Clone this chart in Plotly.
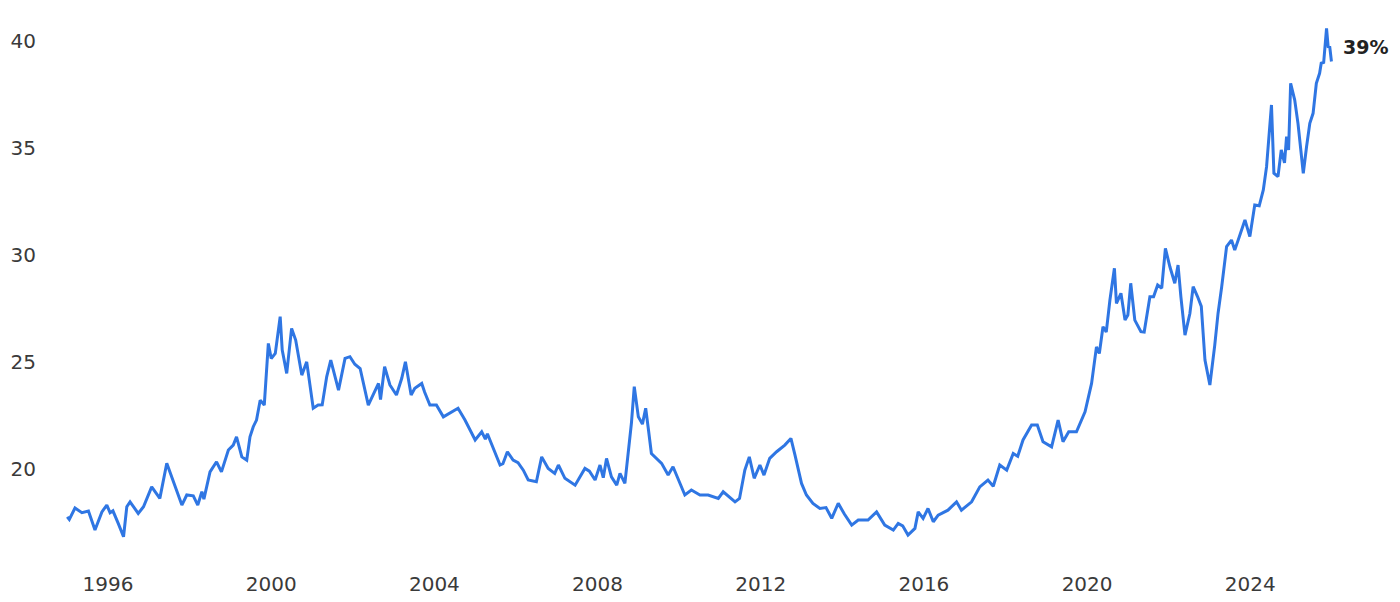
import plotly.graph_objects as go

# Series (decimal year, percent)
years = [
    1995.00, 1995.05, 1995.19, 1995.36, 1995.52, 1995.68, 1995.85, 1995.97,
    1996.05, 1996.12, 1996.25, 1996.38, 1996.46, 1996.54, 1996.74, 1996.87,
    1997.07, 1997.27, 1997.44, 1997.56, 1997.81, 1997.93, 1998.09, 1998.20,
    1998.30, 1998.35, 1998.50, 1998.66, 1998.78, 1998.95, 1999.07, 1999.15,
    1999.28, 1999.40, 1999.48, 1999.56, 1999.64, 1999.73, 1999.83, 1999.93,
    2000.00, 2000.10, 2000.22, 2000.27, 2000.38, 2000.50, 2000.60, 2000.75,
    2000.87, 2001.03, 2001.15, 2001.25, 2001.36, 2001.46, 2001.55, 2001.65,
    2001.81, 2001.93, 2002.05, 2002.18, 2002.38, 2002.54, 2002.63, 2002.68,
    2002.78, 2002.91, 2003.07, 2003.20, 2003.29, 2003.43, 2003.52, 2003.69,
    2003.76, 2003.89, 2004.05, 2004.22, 2004.42, 2004.58, 2004.75, 2005.00,
    2005.16, 2005.25, 2005.30, 2005.40, 2005.61, 2005.68, 2005.79, 2005.93,
    2006.05, 2006.18, 2006.30, 2006.50, 2006.63, 2006.79, 2006.95, 2007.04,
    2007.20, 2007.45, 2007.69, 2007.80, 2007.94, 2008.06, 2008.14, 2008.22,
    2008.34, 2008.47, 2008.55, 2008.67, 2008.83, 2008.90, 2009.00, 2009.10,
    2009.18, 2009.25, 2009.32, 2009.57, 2009.73, 2009.85, 2009.98, 2010.14,
    2010.30, 2010.51, 2010.71, 2010.96, 2011.08, 2011.37, 2011.48, 2011.61,
    2011.72, 2011.84, 2011.98, 2012.08, 2012.22, 2012.39, 2012.59, 2012.74,
    2012.84, 2013.00, 2013.12, 2013.28, 2013.45, 2013.60, 2013.74, 2013.90,
    2014.05, 2014.23, 2014.39, 2014.63, 2014.84, 2015.04, 2015.25, 2015.37,
    2015.48, 2015.61, 2015.78, 2015.86, 2015.98, 2016.10, 2016.23, 2016.35,
    2016.59, 2016.80, 2016.92, 2017.17, 2017.37, 2017.57, 2017.70, 2017.86,
    2018.03, 2018.19, 2018.30, 2018.43, 2018.64, 2018.78, 2018.92, 2019.13,
    2019.29, 2019.41, 2019.55, 2019.74, 2019.95, 2020.11, 2020.23, 2020.30,
    2020.39, 2020.47, 2020.56, 2020.67, 2020.72, 2020.83, 2020.93, 2021.00,
    2021.07, 2021.17, 2021.32, 2021.40, 2021.54, 2021.63, 2021.73, 2021.83,
    2021.92, 2022.03, 2022.15, 2022.23, 2022.30, 2022.40, 2022.52, 2022.60,
    2022.71, 2022.80, 2022.89, 2023.01, 2023.13, 2023.21, 2023.30, 2023.42,
    2023.54, 2023.62, 2023.74, 2023.87, 2023.99, 2024.11, 2024.22, 2024.32,
    2024.40, 2024.48, 2024.52, 2024.58, 2024.68, 2024.76, 2024.84, 2024.89,
    2024.94, 2024.99, 2025.09, 2025.17, 2025.30, 2025.38, 2025.46, 2025.54,
    2025.62, 2025.70, 2025.74, 2025.80, 2025.87, 2025.91, 2025.95, 2025.99,
]
values = [
    17.77, 17.65, 18.18, 17.96, 18.04, 17.15, 18.00, 18.32,
    17.96, 18.05, 17.46, 16.84, 18.24, 18.47, 17.93, 18.24,
    19.17, 18.63, 20.27, 19.64, 18.32, 18.79, 18.75, 18.32,
    18.94, 18.60, 19.87, 20.34, 19.87, 20.89, 21.12, 21.51,
    20.57, 20.42, 21.51, 21.98, 22.29, 23.22, 22.99, 25.87,
    25.17, 25.40, 27.12, 25.56, 24.47, 26.57, 26.03, 24.39,
    25.01, 22.84, 22.99, 23.00, 24.31, 25.09, 24.40, 23.69,
    25.17, 25.25, 24.90, 24.70, 22.99, 23.61, 24.00, 23.25,
    24.78, 23.93, 23.46, 24.24, 25.01, 23.46, 23.77, 24.00,
    23.60, 22.99, 22.99, 22.44, 22.68, 22.84, 22.29, 21.36,
    21.74, 21.40, 21.65, 21.20, 20.19, 20.25, 20.81, 20.42,
    20.30, 19.95, 19.49, 19.41, 20.57, 20.03, 19.80, 20.19,
    19.57, 19.25, 20.03, 19.90, 19.49, 20.19, 19.60, 20.50,
    19.64, 19.25, 19.80, 19.33, 22.14, 23.85, 22.44, 22.10,
    22.84, 21.80, 20.73, 20.27, 19.72, 20.11, 19.50, 18.79,
    19.02, 18.79, 18.79, 18.63, 18.94, 18.47, 18.63, 19.95,
    20.57, 19.57, 20.19, 19.72, 20.50, 20.81, 21.12, 21.43,
    20.65, 19.33, 18.79, 18.40, 18.16, 18.20, 17.70, 18.40,
    17.90, 17.38, 17.62, 17.62, 18.00, 17.38, 17.15, 17.46,
    17.35, 16.92, 17.23, 18.00, 17.70, 18.16, 17.54, 17.85,
    18.08, 18.47, 18.08, 18.47, 19.17, 19.49, 19.20, 20.19,
    19.95, 20.73, 20.60, 21.36, 22.06, 22.06, 21.28, 21.04,
    22.29, 21.28, 21.74, 21.74, 22.68, 24.00, 25.71, 25.40,
    26.65, 26.40, 27.90, 29.38, 27.74, 28.21, 26.96, 27.20,
    28.68, 26.96, 26.42, 26.40, 28.05, 28.05, 28.60, 28.45,
    30.31, 29.45, 28.68, 29.53, 28.05, 26.26, 27.27, 28.52,
    28.05, 27.60, 25.09, 23.93, 25.79, 27.27, 28.52, 30.39,
    30.70, 30.23, 30.90, 31.64, 30.86, 32.34, 32.30, 33.04,
    34.13, 36.31, 37.01, 33.82, 33.66, 34.91, 34.30, 35.53,
    34.91, 38.02, 37.24, 36.15, 33.82, 35.06, 36.15, 36.62,
    38.02, 38.49, 38.96, 39.00, 40.59, 39.73, 39.70, 39.04,
]
x_ticks = [1996, 2000, 2004, 2008, 2012, 2016, 2020, 2024]
y_ticks = [20, 25, 30, 35, 40]
end_label = "39%"
end_label_value = 39.7

fig = go.Figure()

fig.add_trace(go.Scatter(
    x=years,
    y=values,
    mode='lines',
    line=dict(color='#2F76E3', width=3),
    showlegend=False,
    hoverinfo='skip'
))

# Bold label just right of the line end
fig.add_annotation(
    x=1.0, y=end_label_value,
    xref='paper', yref='y',
    text="<b>" + end_label + "</b>",
    showarrow=False,
    xanchor='left',
    xshift=1,
    font=dict(family='DejaVu Sans', size=19, color='#222222')
)

# page body has an 8px margin, so the figure is offset by 8px
fig.update_layout(
    width=1384, height=594,
    margin=dict(l=47, r=52, t=12, b=58),
    plot_bgcolor='white',
    paper_bgcolor='white',
    font=dict(family='DejaVu Sans', size=20, color='#3a3a3a'),
    xaxis=dict(
        range=[1994.70, 2026.2],
        tickvals=x_ticks,
        ticktext=[str(t) for t in x_ticks],
        showgrid=False, zeroline=False, showline=False,
        ticks='outside', ticklen=22, tickcolor='rgba(0,0,0,0)',
        automargin=False
    ),
    yaxis=dict(
        range=[16.5, 40.98],
        tickvals=y_ticks,
        showgrid=False, zeroline=False, showline=False,
        ticks='outside', ticklen=14, tickcolor='rgba(0,0,0,0)',
        automargin=False
    )
)

fig.write_html("out.html")
